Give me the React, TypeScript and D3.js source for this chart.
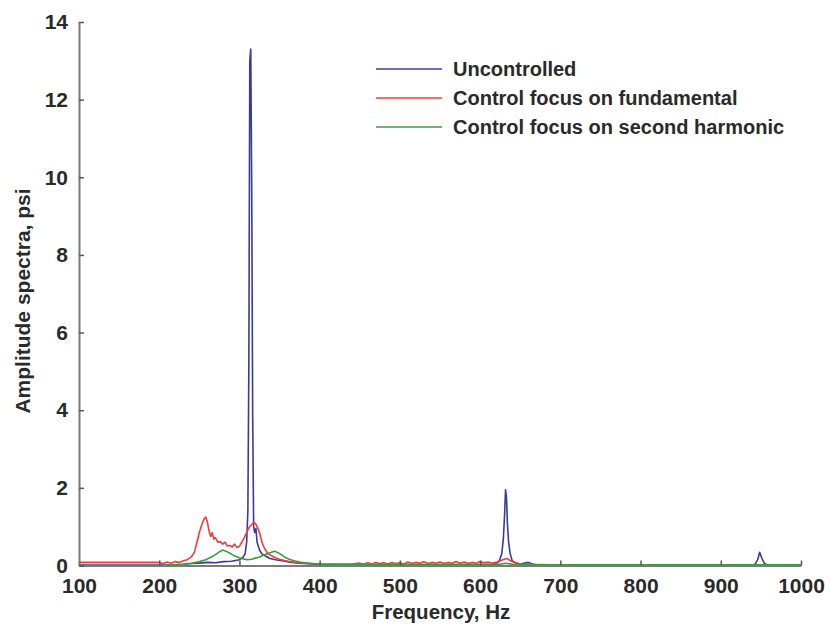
import * as d3 from "d3";
import { useEffect, useRef } from "react";

// tick values
const xTicks = [100, 200, 300, 400, 500, 600, 700, 800, 900, 1000];
const yTicks = [0, 2, 4, 6, 8, 10, 12, 14];

const seriesNames = [
  "Uncontrolled",
  "Control focus on fundamental",
  "Control focus on second harmonic",
];
const seriesColors = ["#3a3a9e", "#f03c3c", "#3c9c3c"];

// [frequency Hz, amplitude psi]
const uncontrolled: [number, number][] = [
  [100, 0.01], [150, 0.01], [200, 0.01], [220, 0.02], [230, 0.03], [240, 0.05],
  [250, 0.06], [260, 0.08], [270, 0.07], [280, 0.1], [290, 0.11], [295, 0.13],
  [300, 0.15], [304, 0.2], [307, 0.3], [309, 0.6], [310.5, 1.4], [311.7, 5.1],
  [312.9, 13.0], [314.1, 13.3], [315.3, 9.7], [316.5, 3.9], [317.7, 1.0], [319, 0.85],
  [320.5, 0.95], [322, 0.6], [325, 0.4], [328, 0.3], [332, 0.25], [338, 0.18],
  [345, 0.15], [355, 0.12], [365, 0.08], [375, 0.06], [390, 0.04], [400, 0.03],
  [450, 0.02], [500, 0.02], [550, 0.02], [600, 0.02], [615, 0.03], [620, 0.05],
  [624, 0.12], [627, 0.3], [629, 0.7], [630.5, 1.3], [631.7, 1.95], [632.9, 1.75],
  [634, 1.1], [635.5, 0.6], [637.5, 0.3], [640, 0.12], [645, 0.06], [650, 0.04],
  [660, 0.08], [665, 0.04], [670, 0.02], [700, 0.01], [800, 0.01], [900, 0.01],
  [940, 0.01], [943, 0.04], [946, 0.15], [948.5, 0.34], [951, 0.2], [954, 0.07],
  [957, 0.02], [960, 0.01], [1000, 0.01],
];

const fundamental: [number, number][] = [
  [100, 0.08], [130, 0.08], [160, 0.08], [200, 0.08], [205, 0.05], [210, 0.09],
  [215, 0.06], [220, 0.1], [225, 0.08], [230, 0.12], [235, 0.15], [240, 0.22],
  [244, 0.35], [247, 0.6], [250, 0.85], [253, 1.05], [256, 1.2], [258, 1.25],
  [260, 1.12], [262, 0.9], [264, 0.75], [266, 0.85], [268, 0.68], [270, 0.72],
  [273, 0.6], [276, 0.62], [279, 0.55], [282, 0.6], [285, 0.5], [288, 0.52],
  [291, 0.48], [294, 0.55], [297, 0.46], [300, 0.5], [303, 0.6], [306, 0.72],
  [309, 0.85], [312, 0.98], [315, 1.05], [318, 1.12], [320, 1.08], [322, 1.0],
  [325, 0.85], [328, 0.6], [331, 0.45], [335, 0.32], [340, 0.25], [345, 0.2],
  [350, 0.16], [356, 0.13], [362, 0.1], [370, 0.08], [380, 0.06], [390, 0.05],
  [400, 0.04], [420, 0.03], [440, 0.04], [450, 0.06], [455, 0.03], [460, 0.07],
  [465, 0.04], [470, 0.08], [475, 0.05], [480, 0.07], [485, 0.04], [490, 0.08],
  [495, 0.05], [500, 0.07], [505, 0.04], [510, 0.09], [515, 0.05], [520, 0.08],
  [525, 0.06], [530, 0.1], [535, 0.05], [540, 0.08], [545, 0.06], [550, 0.09],
  [555, 0.05], [560, 0.08], [565, 0.06], [570, 0.1], [575, 0.06], [580, 0.09],
  [585, 0.05], [590, 0.08], [595, 0.06], [600, 0.1], [605, 0.07], [610, 0.09],
  [615, 0.06], [620, 0.08], [625, 0.12], [630, 0.16], [634, 0.18], [638, 0.12],
  [642, 0.08], [648, 0.05], [655, 0.03], [665, 0.02], [700, 0.01], [1000, 0.01],
];

const secondHarmonic: [number, number][] = [
  [100, 0.0], [200, 0.0], [220, 0.02], [230, 0.03], [240, 0.06], [250, 0.1],
  [258, 0.15], [265, 0.22], [270, 0.28], [275, 0.35], [279, 0.4], [283, 0.37],
  [287, 0.33], [291, 0.28], [295, 0.24], [300, 0.2], [305, 0.17], [310, 0.15],
  [315, 0.16], [320, 0.19], [325, 0.22], [330, 0.27], [335, 0.3], [340, 0.34],
  [344, 0.37], [348, 0.33], [352, 0.28], [356, 0.22], [362, 0.16], [368, 0.12],
  [375, 0.09], [385, 0.06], [395, 0.04], [410, 0.03], [450, 0.03], [500, 0.03],
  [550, 0.03], [600, 0.03], [625, 0.03], [632, 0.06], [640, 0.03], [700, 0.02],
  [800, 0.02], [900, 0.02], [1000, 0.02],
];

const allSeries = [uncontrolled, fundamental, secondHarmonic];

export default function App() {
  const ref = useRef<SVGSVGElement>(null);

  useEffect(() => {
    const svg = d3.select(ref.current);
    svg.selectAll("*").remove();

    const font = "'Liberation Sans', Arial, sans-serif";

    const x = d3.scaleLinear().domain([100, 1000]).range([79, 801]);
    const y = d3.scaleLinear().domain([0, 14]).range([565.5, 22]);

    // series lines
    const line = d3.line<[number, number]>()
      .x(d => x(d[0]))
      .y(d => y(d[1]));

    allSeries.forEach((data, i) => {
      svg.append("path")
        .datum(data)
        .attr("fill", "none")
        .attr("stroke", seriesColors[i])
        .attr("stroke-width", 1.6)
        .attr("stroke-linejoin", "round")
        .attr("d", line);
    });

    // axes, ticks pointing inward
    const xAxis = d3.axisBottom(x)
      .tickValues(xTicks)
      .tickFormat(d3.format("d"))
      .tickSize(-5)
      .tickSizeOuter(0)
      .tickPadding(13);

    const yAxis = d3.axisLeft(y)
      .tickValues(yTicks)
      .tickFormat(d3.format("d"))
      .tickSize(-5)
      .tickSizeOuter(0)
      .tickPadding(11);

    const gx = svg.append("g")
      .attr("transform", `translate(0, ${y(0)})`)
      .call(xAxis);

    const gy = svg.append("g")
      .attr("transform", `translate(${x(100)}, 0)`)
      .call(yAxis);

    [gx, gy].forEach(g => {
      g.select(".domain").attr("stroke", "#7a7a7a").attr("stroke-width", 2);
      g.selectAll(".tick line").attr("stroke", "#555").attr("stroke-width", 1.5);
      g.selectAll(".tick text")
        .attr("fill", "#2a2a2a")
        .style("font-family", font)
        .style("font-weight", "bold")
        .style("font-size", "21px");
    });

    // axis titles
    svg.append("text")
      .attr("x", 441)
      .attr("y", 619)
      .attr("text-anchor", "middle")
      .attr("fill", "#2a2a2a")
      .style("font-family", font)
      .style("font-weight", "bold")
      .style("font-size", "20.5px")
      .text("Frequency, Hz");

    svg.append("text")
      .attr("transform", "translate(30, 301) rotate(-90)")
      .attr("text-anchor", "middle")
      .attr("fill", "#2a2a2a")
      .style("font-family", font)
      .style("font-weight", "bold")
      .style("font-size", "21px")
      .text("Amplitude spectra, psi");

    // legend
    const legend = svg.append("g");
    seriesNames.forEach((name, i) => {
      const ly = 69 + i * 29;
      legend.append("line")
        .attr("x1", 376).attr("x2", 442)
        .attr("y1", ly).attr("y2", ly)
        .attr("stroke", seriesColors[i])
        .attr("stroke-opacity", 0.75)
        .attr("stroke-width", 2);
      legend.append("text")
        .attr("x", 453)
        .attr("y", ly + 7)
        .attr("fill", "#2a2a2a")
        .style("font-family", font)
        .style("font-weight", "bold")
        .style("font-size", "20px")
        .text(name);
    });
  }, []);

  return (
    <svg
      ref={ref}
      width={830}
      height={635}
      style={{ position: "absolute", left: 0, top: 0, background: "#fff" }}
    />
  );
}
